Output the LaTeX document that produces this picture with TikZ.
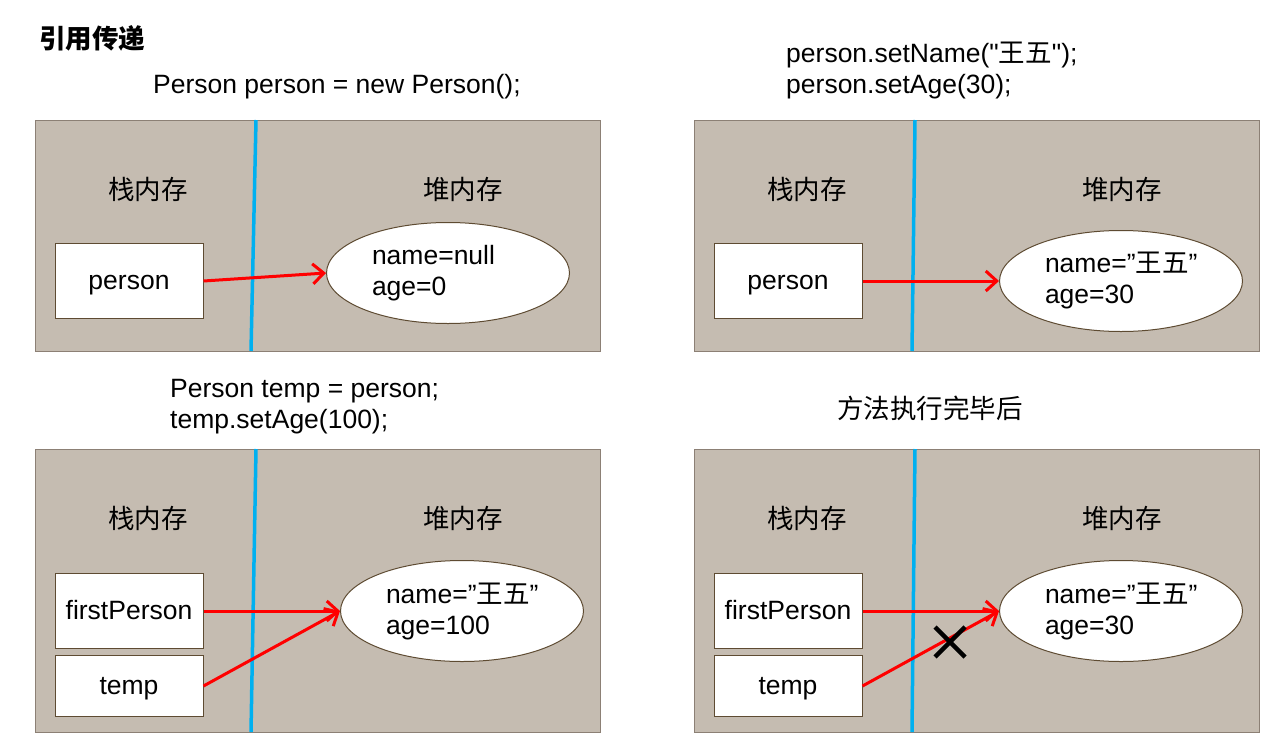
\documentclass[tikz,border=0pt]{standalone}
\usepackage{fontspec}
\setmainfont{Liberation Sans}
\newfontfamily\cjk{Noto Sans CJK SC}
\usetikzlibrary{shapes.geometric, arrows.meta, positioning}
\definecolor{memfill}{RGB}{197,188,177}
\definecolor{panelline}{RGB}{140,128,117}
\definecolor{boxline}{RGB}{94,75,50}
\definecolor{divblue}{RGB}{0,176,240}

\begin{document}
\begin{tikzpicture}[x=1pt, y=-1pt, font=\fontsize{26.5}{31}\selectfont,
    panel/.style={draw=panelline, fill=memfill, line width=1pt},
    divider/.style={draw=divblue, line width=3.5pt},
    varbox/.style={draw=boxline, fill=white, line width=1pt, minimum width=148pt, inner sep=0pt, text height=22pt, text depth=5pt},
    obj/.style={ellipse, draw=boxline, fill=white, line width=1pt, minimum width=243pt, minimum height=101pt, text width=152pt, align=left, inner sep=0pt},
    ref/.style={-{Straight Barb[length=11pt, width=20pt, line width=3pt]}, red, line width=3pt},
    code/.style={anchor=west, align=left, inner sep=0pt},
    memlabel/.style={font=\fontsize{26.5}{31}\selectfont\cjk, inner sep=0pt}]
    \useasboundingbox (0,0) rectangle (1285,755);

    % Panels
    \foreach \n/\px/\py/\ph/\dx in {A/35/120/231/5, B/694/120/231/3, C/35/449/283/5, D/694/449/283/3} {
        \draw[panel] (\px,\py) rectangle ++(565,\ph);
        \draw[divider] (\px+221,\py) -- (\px+221-\dx,\py+\ph);
        \node[memlabel] (stack\n) at (\px+113,\py+69) {栈内存};
        \node[memlabel] (heap\n) at (\px+428,\py+69) {堆内存};
    }

    % Titles and code
    \node[code] (title) at (39,38) {\cjk\bfseries 引用传递};
    \node[code] (codeA) at (153,87) {Person person = new Person();};
    \node[code] (codeB) at (786,71) {person.setName(\textquotedbl{\cjk 王五}\textquotedbl);\\person.setAge(30);};
    \node[code] (codeC) at (170,407) {Person temp = person;\\temp.setAge(100);};
    \node[memlabel] (codeD) at (930,408) {方法执行完毕后};

    % Stack variables
    \node[varbox, minimum height=75pt] (personA) at (129,281) {person};
    \node[varbox, minimum height=75pt] (personB) at (788,281) {person};
    \node[varbox, minimum height=75pt] (firstC) at (129,611) {firstPerson};
    \node[varbox, minimum height=61pt] (tempC) at (129,686) {temp};
    \node[varbox, minimum height=75pt] (firstD) at (788,611) {firstPerson};
    \node[varbox, minimum height=61pt] (tempD) at (788,686) {temp};

    % Heap objects
    \node[obj] (objA) at (448,273) {name=null\\age=0};
    \node[obj] (objB) at (1121,281) {name=”{\cjk 王五}”\\age=30};
    \node[obj] (objC) at (462,611) {name=”{\cjk 王五}”\\age=100};
    \node[obj] (objD) at (1121,611) {name=”{\cjk 王五}”\\age=30};

    % References
    \draw[ref] (personA.east) -- (objA.west);
    \draw[ref] (personB.east) -- (objB.west);
    \draw[ref] (firstC.east) -- (objC.west);
    \draw[ref] (tempC.east) -- (objC.west);
    \draw[ref] (firstD.east) -- (objD.west);
    \draw[ref] (tempD.east) -- (objD.west);

    % Cut reference
    \coordinate (cut) at (950,642);
    \draw[line width=4.5pt] ([shift={(-15,-15)}]cut) -- ([shift={(15,15)}]cut);
    \draw[line width=4.5pt] ([shift={(-15,15)}]cut) -- ([shift={(15,-15)}]cut);
\end{tikzpicture}
\end{document}
